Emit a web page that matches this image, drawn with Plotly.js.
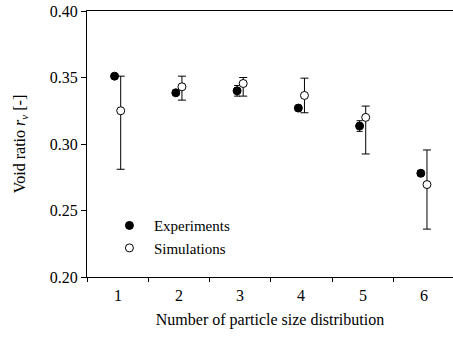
<!DOCTYPE html>
<html>
<head>
<meta charset="utf-8">
<script src="https://cdn.plot.ly/plotly-3.0.1.min.js"></script>
<style>html,body{margin:0;padding:0;background:#fff;}#chart{width:453px;height:338px;}</style>
</head>
<body>
<div id="chart"></div>
<script>
// Data
const categories = [1, 2, 3, 4, 5, 6];
const tickLabels = ['1', '2', '3', '4', '5', '6'];
const expValues = [0.351, 0.3385, 0.340, 0.327, 0.3135, 0.278];
const expErrors = [0.001, 0.002, 0.004, 0.002, 0.004, 0.002];
const simValues = [0.325, 0.343, 0.3455, 0.3365, 0.320, 0.2695];
const simErrPlus = [0.026, 0.008, 0.0045, 0.013, 0.0085, 0.026];
const simErrMinus = [0.044, 0.010, 0.0095, 0.013, 0.0275, 0.0335];
const yTicks = [0.20, 0.25, 0.30, 0.35, 0.40];

const offset = 0.05;
const font = {family: '"Liberation Serif", "Times New Roman", serif', size: 16, color: '#000'};
const legendFont = {family: font.family, size: 15, color: '#000'};

const traces = [
  {
    type: 'scatter', mode: 'markers', name: 'Experiments',
    x: categories.map(c => c - offset), y: expValues,
    marker: {symbol: 'circle', size: 8, color: '#000', line: {color: '#000', width: 1}},
    error_y: {type: 'data', array: expErrors, visible: true, color: '#000', thickness: 1, width: 3}
  },
  {
    type: 'scatter', mode: 'markers', name: 'Simulations',
    x: categories.map(c => c + offset), y: simValues,
    marker: {symbol: 'circle', size: 8, color: '#fff', line: {color: '#000', width: 1}},
    error_y: {type: 'data', symmetric: false, array: simErrPlus, arrayminus: simErrMinus, visible: true, color: '#000', thickness: 1, width: 4}
  }
];

const annotations = categories.map((c, i) => ({
  x: c, y: 0, xref: 'x', yref: 'paper',
  text: tickLabels[i], showarrow: false,
  xanchor: 'center', yanchor: 'middle', yshift: -18,
  font: font
}));

const layout = {
  width: 453, height: 338,
  margin: {l: 87, r: 0, t: 11, b: 61},
  paper_bgcolor: '#fff', plot_bgcolor: '#fff',
  font: font,
  showlegend: true,
  legend: {x: 0.049, y: 0.255, xanchor: 'left', yanchor: 'top', bgcolor: 'rgba(0,0,0,0)', font: legendFont, itemwidth: 39, tracegroupgap: 0},
  annotations: annotations,
  xaxis: {
    range: [0.5, 6.475],
    automargin: true,
    showline: true, linecolor: '#000', linewidth: 1, mirror: true,
    showgrid: false, zeroline: false,
    tickmode: 'array',
    tickvals: categories.map(c => c - 0.5),
    showticklabels: false,
    ticks: 'outside', ticklen: 4, tickcolor: '#000', tickwidth: 1,
    title: {text: 'Number of particle size distribution', font: font, standoff: 32}
  },
  yaxis: {
    range: [0.2, 0.4],
    showline: true, linecolor: '#000', linewidth: 1, mirror: false,
    showgrid: false, zeroline: false,
    tickmode: 'array', tickvals: yTicks, tickformat: '.2f',
    ticks: 'outside', ticklen: 5, tickcolor: '#000', tickwidth: 1,
    tickfont: font,
    title: {text: 'Void ratio <i>r</i><sub><i>v</i></sub> [-]', font: font, standoff: 20}
  }
};

Plotly.newPlot('chart', traces, layout, {displayModeBar: false, staticPlot: true});
</script>
</body>
</html>
